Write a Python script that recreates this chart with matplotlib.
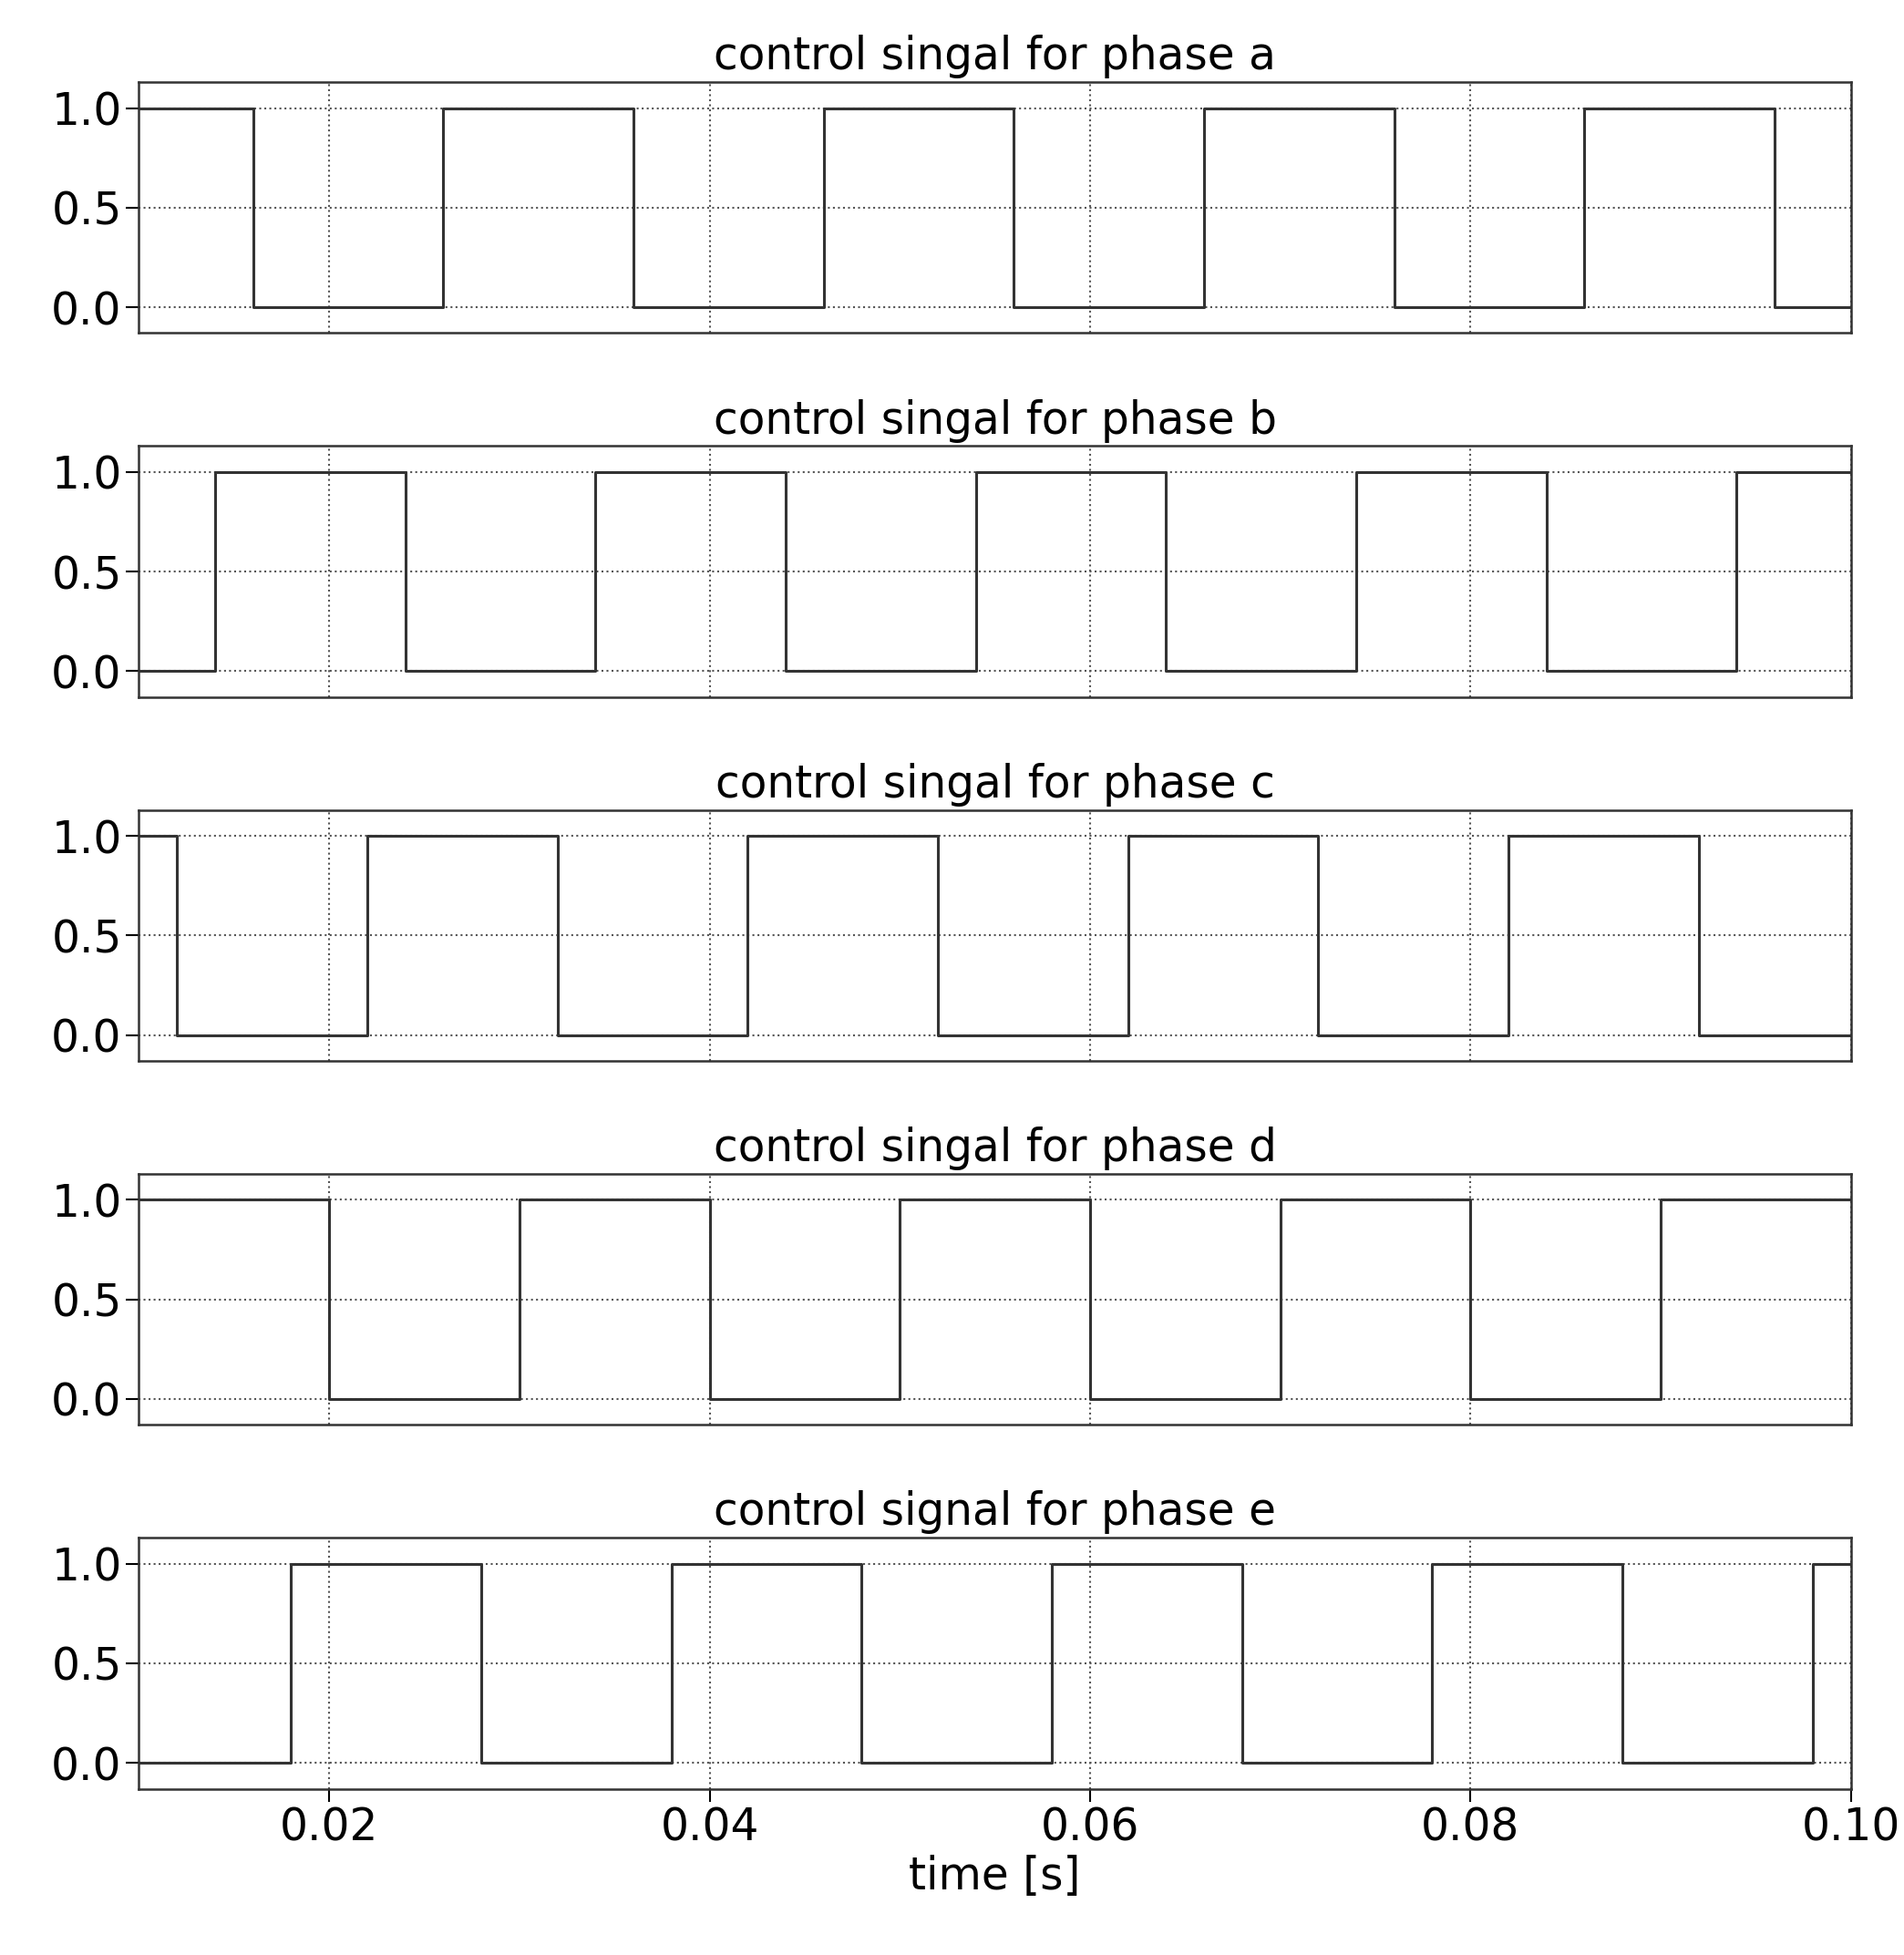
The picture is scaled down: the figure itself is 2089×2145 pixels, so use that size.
import matplotlib
matplotlib.use("Agg")
import matplotlib.pyplot as plt
import numpy as np

titles = ["control singal for phase a", "control singal for phase b",
          "control singal for phase c", "control singal for phase d",
          "control signal for phase e"]
initial = [1, 0, 1, 1, 0]
transitions = [
    [0.016, 0.026, 0.036, 0.046, 0.056, 0.066, 0.076, 0.086, 0.096],
    [0.014, 0.024, 0.034, 0.044, 0.054, 0.064, 0.074, 0.084, 0.094],
    [0.012, 0.022, 0.032, 0.042, 0.052, 0.062, 0.072, 0.082, 0.092],
    [0.020, 0.030, 0.040, 0.050, 0.060, 0.070, 0.080, 0.090],
    [0.018, 0.028, 0.038, 0.048, 0.058, 0.068, 0.078, 0.088, 0.098],
]
t_start, t_end = 0.01, 0.10
xticks = [0.02, 0.04, 0.06, 0.08, 0.10]
yticks = [0.0, 0.5, 1.0]

fig, axes = plt.subplots(5, 1, figsize=(20.89, 21.45), dpi=100, sharex=True)
fig.subplots_adjust(left=0.073, right=0.972, top=0.958, bottom=0.085, hspace=0.45)
for i, (ax, title, y0, tr) in enumerate(zip(axes, titles, initial, transitions)):
    ts = [t_start] + tr + [t_end]
    vals = [y0]
    for _ in tr:
        vals.append(1 - vals[-1])
    vals.append(vals[-1])
    ax.step(ts, vals, where="post", color="#333333", lw=2.2)
    ax.set_xlim(t_start, t_end)
    ax.set_ylim(-0.13, 1.13)
    ax.set_yticks(yticks)
    ax.set_yticklabels(["0.0", "0.5", "1.0"])
    ax.set_xticks(xticks)
    ax.grid(True, linestyle=":", color="#555555", lw=1.5)
    ax.set_title(title, fontsize=35, pad=10)
    ax.tick_params(labelsize=35, length=10, width=1.5, direction="out")
    if i < 4:
        ax.tick_params(axis="x", length=0)
    for s in ax.spines.values():
        s.set_linewidth(1.8)
        s.set_color("#333333")
axes[-1].set_xticklabels(["0.02", "0.04", "0.06", "0.08", "0.10"])
axes[-1].set_xlabel("time [s]", fontsize=35)
fig.savefig("out.png", dpi=100)
